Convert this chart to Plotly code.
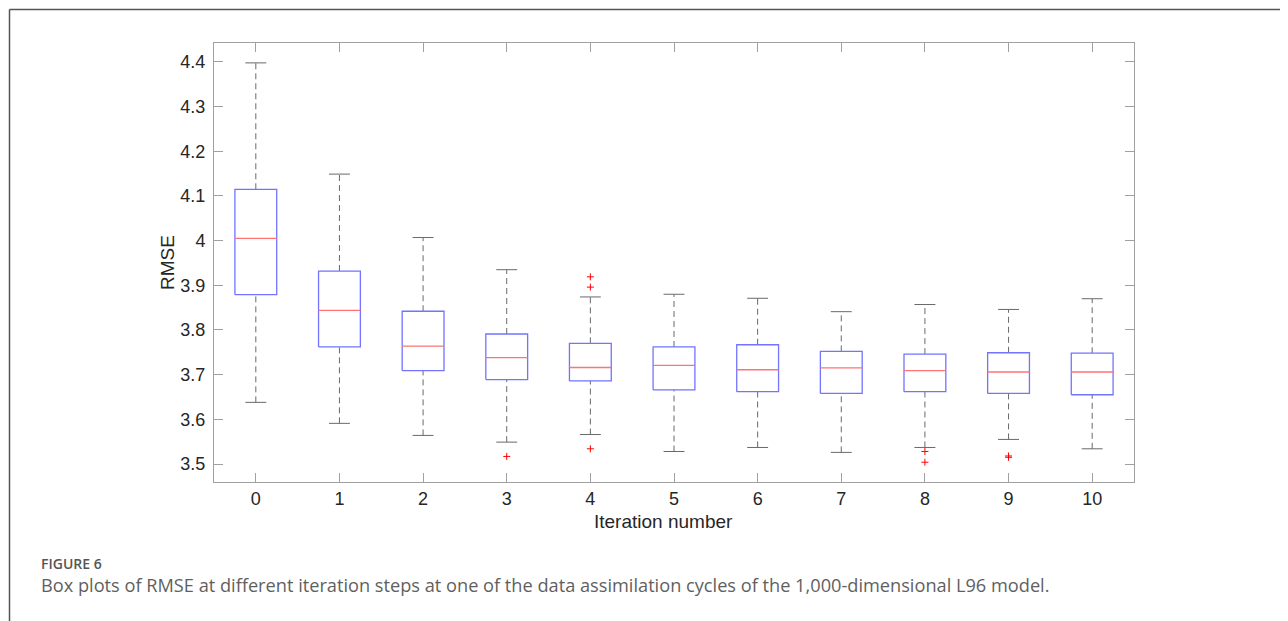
import plotly.graph_objects as go

iterations = [0, 1, 2, 3, 4, 5, 6, 7, 8, 9, 10]
upper_whisker = [4.398, 4.149, 4.007, 3.935, 3.874, 3.880, 3.871, 3.841, 3.857, 3.846, 3.870]
q3 = [4.115, 3.932, 3.842, 3.791, 3.770, 3.762, 3.767, 3.752, 3.746, 3.749, 3.748]
median = [4.005, 3.844, 3.764, 3.738, 3.716, 3.721, 3.711, 3.715, 3.709, 3.706, 3.706]
q1 = [3.879, 3.762, 3.709, 3.689, 3.686, 3.666, 3.662, 3.658, 3.662, 3.658, 3.655]
lower_whisker = [3.638, 3.591, 3.564, 3.549, 3.566, 3.528, 3.537, 3.526, 3.537, 3.555, 3.534]
outlier_x = [3, 4, 4, 4, 8, 8, 9, 9]
outlier_y = [3.517, 3.919, 3.896, 3.534, 3.528, 3.504, 3.518, 3.515]
y_ticks = [3.5, 3.6, 3.7, 3.8, 3.9, 4.0, 4.1, 4.2, 4.3, 4.4]
y_tick_labels = ["3.5", "3.6", "3.7", "3.8", "3.9", "4", "4.1", "4.2", "4.3", "4.4"]

BOX_HALF = 0.25
CAP_HALF = 0.125

box_col = "rgb(115,115,255)"
med_col = "rgb(255,115,115)"
wh_col = "rgb(105,105,105)"

# page-pixel helpers relative to the plot area (left 214, right 1134, top 43, bottom 482)
PL, PR, PT, PB = 214, 1134, 43, 482
def fx(px):
    return (px - PL) / (PR - PL)
def fy(py):
    return (PB - py) / (PB - PT)

fig = go.Figure()

# whiskers (dashed)
wx, wy = [], []
for x, lo, a, b, hi in zip(iterations, lower_whisker, q1, q3, upper_whisker):
    wx += [x, x, None, x, x, None]
    wy += [b, hi, None, lo, a, None]
fig.add_trace(go.Scatter(x=wx, y=wy, mode="lines", line=dict(color=wh_col, width=1, dash="6px,4px"),
                         hoverinfo="skip", showlegend=False))

# caps
cx, cy = [], []
for x, lo, hi in zip(iterations, lower_whisker, upper_whisker):
    cx += [x - CAP_HALF, x + CAP_HALF, None, x - CAP_HALF, x + CAP_HALF, None]
    cy += [hi, hi, None, lo, lo, None]
fig.add_trace(go.Scatter(x=cx, y=cy, mode="lines", line=dict(color=wh_col, width=1),
                         hoverinfo="skip", showlegend=False))

# boxes
bx, by = [], []
for x, a, b in zip(iterations, q1, q3):
    bx += [x - BOX_HALF, x + BOX_HALF, x + BOX_HALF, x - BOX_HALF, x - BOX_HALF, None]
    by += [a, a, b, b, a, None]
fig.add_trace(go.Scatter(x=bx, y=by, mode="lines", line=dict(color=box_col, width=1.3),
                         hoverinfo="skip", showlegend=False))

# medians
mx, my = [], []
for x, m in zip(iterations, median):
    mx += [x - BOX_HALF, x + BOX_HALF, None]
    my += [m, m, None]
fig.add_trace(go.Scatter(x=mx, y=my, mode="lines", line=dict(color=med_col, width=1.3),
                         hoverinfo="skip", showlegend=False))

# outliers
fig.add_trace(go.Scatter(x=outlier_x, y=outlier_y, mode="markers",
                         marker=dict(symbol="cross-thin", size=5, line=dict(color="red", width=1)),
                         hoverinfo="skip", showlegend=False))

axis_col = "rgb(160,160,160)"
tick_font = dict(family="Liberation Sans, Arial", size=18, color="#262626")
fig.update_xaxes(range=[-0.5, 10.5], tickmode="array", tickvals=iterations,
                 ticktext=[str(i) for i in iterations],
                 ticks="inside", ticklen=9, tickcolor=axis_col, tickwidth=1,
                 showline=True, linecolor=axis_col, linewidth=1, mirror="ticks",
                 showgrid=False, zeroline=False, ticklabelstandoff=0,
                 tickfont=tick_font)
fig.update_yaxes(range=[3.4597, 4.4425], tickmode="array", tickvals=y_ticks, ticktext=y_tick_labels,
                 ticks="inside", ticklen=9, tickcolor=axis_col, tickwidth=1,
                 showline=True, linecolor=axis_col, linewidth=1, mirror="ticks",
                 showgrid=False, zeroline=False, ticklabelstandoff=4,
                 tickfont=tick_font,
                 title=dict(text="RMSE", font=dict(family="Liberation Sans, Arial", size=19, color="#262626"),
                            standoff=0))

fig.add_annotation(text="Iteration number", xref="paper", yref="paper",
                   x=fx(663), y=fy(521), xanchor="center", yanchor="middle",
                   showarrow=False, font=dict(family="Liberation Sans, Arial", size=19, color="#262626"))

fig.add_annotation(text="FIGURE 6", xref="paper", yref="paper",
                   x=fx(39), y=fy(563), xanchor="left", yanchor="middle",
                   showarrow=False, font=dict(family="Open Sans", size=14, color="#555555", weight=600))
fig.add_annotation(text="Box plots of RMSE at different iteration steps at one of the data assimilation cycles of the 1,000-dimensional L96 model.",
                   xref="paper", yref="paper",
                   x=fx(39), y=fy(585), xanchor="left", yanchor="middle",
                   showarrow=False, font=dict(family="Open Sans", size=18.2, color="#5f5f5f"))

# outer frame
fig.add_shape(type="line", xref="paper", yref="paper",
              x0=fx(9.5), x1=fx(1300), y0=fy(9.5), y1=fy(9.5),
              line=dict(color="#555555", width=1.5))
fig.add_shape(type="line", xref="paper", yref="paper",
              x0=fx(9.5), x1=fx(9.5), y0=fy(9.5), y1=fy(640),
              line=dict(color="#555555", width=1.5))

fig.update_layout(width=1288, height=621, margin=dict(l=206, r=162, t=35, b=147),
                  plot_bgcolor="white", paper_bgcolor="white", showlegend=False)

fig.write_html("out.html")
